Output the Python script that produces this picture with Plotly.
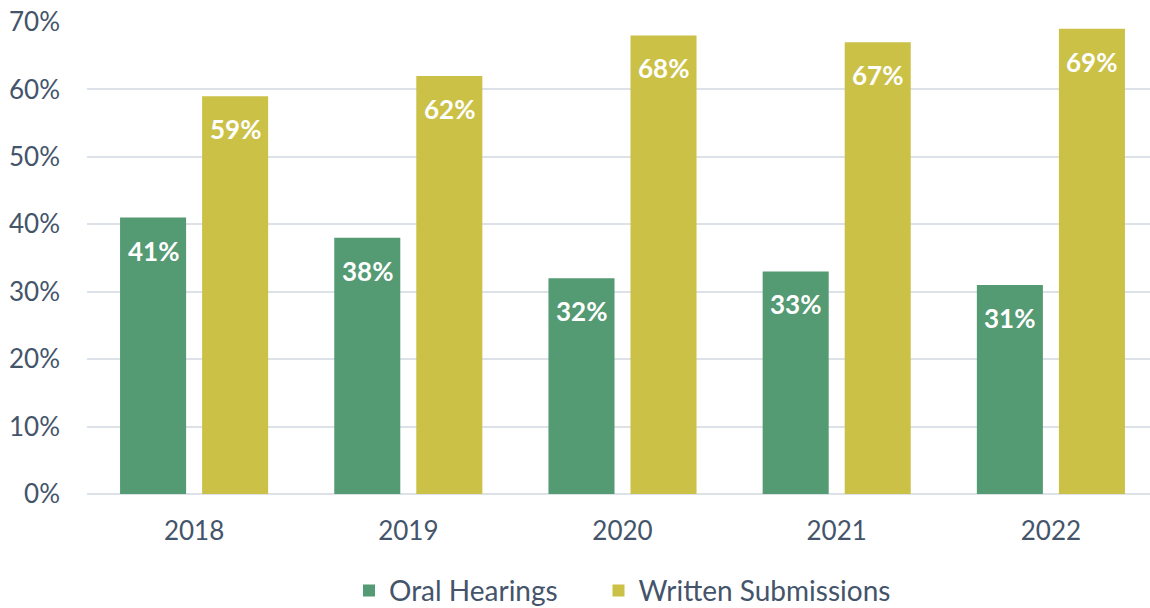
import plotly.graph_objects as go

years = ["2018", "2019", "2020", "2021", "2022"]
oral = [41, 38, 32, 33, 31]
written = [59, 62, 68, 67, 69]
series_names = ["Oral Hearings", "Written Submissions"]
y_ticks = [0, 10, 20, 30, 40, 50, 60, 70]
y_tick_labels = [f"{v}%" for v in y_ticks]

green = "#549a73"
yellow = "#cbc146"
text_col = "#44546a"
font_family = "Lato, 'Open Sans', sans-serif"

fig = go.Figure()
fig.add_trace(go.Bar(name=series_names[0] + "\u00a0" * 5, x=years, y=oral,
                     marker_color=green, marker_line_width=0))
fig.add_trace(go.Bar(name=series_names[1], x=years, y=written,
                     marker_color=yellow, marker_line_width=0))

for series, shift in ((oral, -41), (written, 41)):
    for i, v in enumerate(series):
        fig.add_annotation(x=i, y=v, text=f"<b>{v}%</b>", showarrow=False,
                           xshift=shift, yanchor="top", yshift=-15,
                           font=dict(family=font_family, size=26, color="white"))

fig.update_layout(
    width=1158, height=608,
    margin=dict(l=87, r=0, t=22, b=114, autoexpand=False),
    paper_bgcolor="white", plot_bgcolor="white",
    barmode="group", bargap=0.234, bargroupgap=0.195,
    font=dict(family=font_family, size=26, color=text_col),
    legend=dict(orientation="h", x=0.5, xanchor="center", y=-0.205, yanchor="middle",
                font=dict(size=28, color=text_col), itemwidth=30,
                traceorder="normal"),
    showlegend=True,
)
fig.update_yaxes(range=[0, 70], tickvals=y_ticks, ticktext=y_tick_labels,
                 showgrid=True, gridcolor="#dde1e8", gridwidth=2,
                 zeroline=True, zerolinecolor="#dde1e8", zerolinewidth=2,
                 ticklabelstandoff=26, tickfont=dict(size=26, color=text_col),
                 automargin=False)
fig.update_xaxes(type="category", range=[-0.5, len(years) - 0.5], showline=False,
                 ticks="", ticklabelstandoff=19, automargin=False,
                 tickfont=dict(size=26, color=text_col))

fig.write_html("out.html", config={"displayModeBar": False},
               post_script="document.body.style.margin='0';document.body.style.overflow='hidden';")
